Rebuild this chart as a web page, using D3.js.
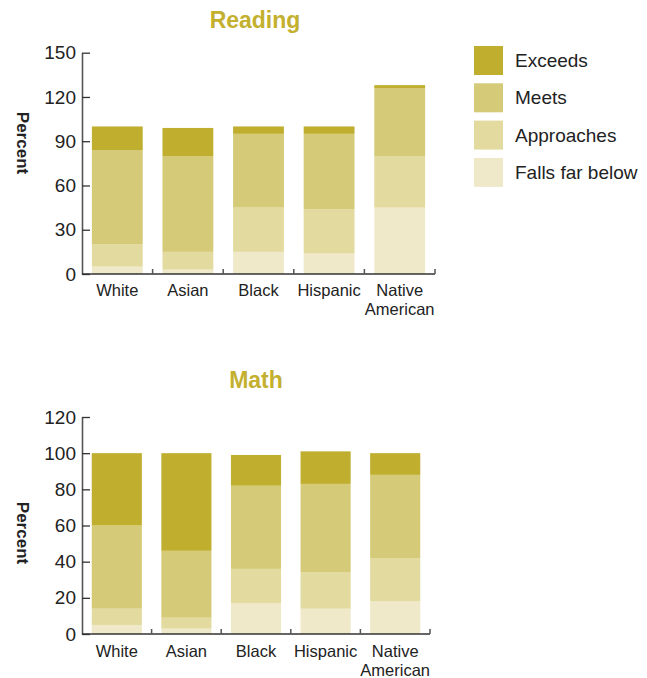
<!DOCTYPE html>
<html><head><meta charset="utf-8">
<script src="https://cdn.jsdelivr.net/npm/d3@7"></script>
<style>
html,body{margin:0;padding:0;background:#fff;}
svg text{font-family:"Liberation Sans",Arial,sans-serif;}
</style></head>
<body>
<svg id="c" width="647" height="678"></svg>
<script>
const categories = ["White", "Asian", "Black", "Hispanic", "Native American"];
const levels = ["Falls far below", "Approaches", "Meets", "Exceeds"];
const levelColors = ["#efe9ca", "#e3da9f", "#d5ca78", "#c0ae2f"];
const legendOrder = ["Exceeds", "Meets", "Approaches", "Falls far below"];

// Reading (percent), per category
const readingFalls      = [5, 3, 15, 14, 45];
const readingApproaches = [15, 12, 30, 30, 35];
const readingMeets      = [64, 65, 50, 51, 46];
const readingExceeds    = [16, 19, 5, 5, 2];
const readingTicks = [0, 30, 60, 90, 120, 150];

// Math (percent), per category
const mathFalls      = [5, 3, 17, 14, 18];
const mathApproaches = [9, 6, 19, 20, 24];
const mathMeets      = [46, 37, 46, 49, 46];
const mathExceeds    = [40, 54, 17, 18, 12];
const mathTicks = [0, 20, 40, 60, 80, 100, 120];

const svg = d3.select("#c");
const titleColor = "#c4b02f";

function rows(f, a, m, e) {
  return categories.map((c, i) => ({
    cat: c, "Falls far below": f[i], "Approaches": a[i], "Meets": m[i], "Exceeds": e[i]
  }));
}

function drawChart(opts) {
  const g = svg.append("g");
  const x = d3.scaleBand().domain(categories).range([opts.x0, opts.x1])
    .paddingInner(0.28).paddingOuter(0.14);
  const y = d3.scaleLinear().domain([0, opts.max]).range([opts.y0, opts.y1]);
  const stack = d3.stack().keys(levels)(opts.data);

  g.selectAll("g.layer").data(stack).join("g")
    .attr("fill", (d, i) => levelColors[i])
    .selectAll("rect").data(d => d).join("rect")
    .attr("x", d => x(d.data.cat))
    .attr("width", x.bandwidth())
    .attr("y", d => y(d[1]))
    .attr("height", d => y(d[0]) - y(d[1]));

  // y axis
  const ya = g.append("g").attr("transform", `translate(${opts.x0},0)`)
    .call(d3.axisLeft(y).tickValues(opts.ticks).tickSize(-8).tickSizeOuter(0).tickPadding(6));
  ya.select(".domain").attr("stroke", "#555").attr("stroke-width", 1.6);
  ya.selectAll(".tick line").attr("stroke", "#333").attr("stroke-width", 1.3);
  ya.selectAll(".tick text").attr("font-size", 19).attr("fill", "#222")
    .attr("font-family", "Liberation Sans, Arial, sans-serif");

  // x axis line and boundary ticks
  g.append("line").attr("x1", opts.x0).attr("x2", opts.x1)
    .attr("y1", opts.y0).attr("y2", opts.y0)
    .attr("stroke", "#333").attr("stroke-width", 1.6);
  const step = x.step();
  g.selectAll("line.xt").data(d3.range(1, categories.length + 1)).join("line")
    .attr("x1", i => opts.x0 + i * step).attr("x2", i => opts.x0 + i * step)
    .attr("y1", opts.y0).attr("y2", opts.y0 - 5)
    .attr("stroke", "#555").attr("stroke-width", 1.5);

  // category labels
  const lab = g.selectAll("text.cl").data(categories).join("text")
    .attr("text-anchor", "middle").attr("font-size", 16.5).attr("fill", "#222")
    .attr("x", d => x(d) + x.bandwidth() / 2)
    .attr("y", opts.y0 + opts.labelOff);
  lab.each(function(d) {
    const parts = d.split(" ");
    const t = d3.select(this);
    parts.forEach((p, i) => {
      t.append("tspan").attr("x", x(d) + x.bandwidth() / 2)
        .attr("dy", i === 0 ? 0 : 18.5).text(p);
    });
  });

  // title
  g.append("text").attr("x", opts.titleX).attr("y", opts.titleY)
    .attr("text-anchor", "middle").attr("font-size", 23).attr("font-weight", "bold")
    .attr("fill", titleColor).text(opts.title);

  // y label
  g.append("text")
    .attr("transform", `translate(17,${opts.labelY}) rotate(90)`)
    .attr("text-anchor", "middle").attr("font-size", 17).attr("font-weight", "bold")
    .attr("fill", "#222").text("Percent");
}

drawChart({
  data: rows(readingFalls, readingApproaches, readingMeets, readingExceeds),
  x0: 82, x1: 435, y0: 274, y1: 52.7, max: 150, ticks: readingTicks,
  title: "Reading", titleX: 255, titleY: 28, labelY: 143, labelOff: 22
});

drawChart({
  data: rows(mathFalls, mathApproaches, mathMeets, mathExceeds),
  x0: 82, x1: 430, y0: 634, y1: 417, max: 120, ticks: mathTicks,
  title: "Math", titleX: 256, titleY: 388, labelY: 533, labelOff: 23
});

// legend
const lg = svg.append("g");
legendOrder.forEach((name, i) => {
  const yy = 46 + i * 37.3;
  lg.append("rect").attr("x", 474).attr("y", yy).attr("width", 29).attr("height", 29)
    .attr("fill", levelColors[levels.indexOf(name)]);
  lg.append("text").attr("x", 515).attr("y", yy + 14.5).attr("dy", "0.35em")
    .attr("font-size", 19).attr("fill", "#222").text(name);
});
</script>
</body></html>
